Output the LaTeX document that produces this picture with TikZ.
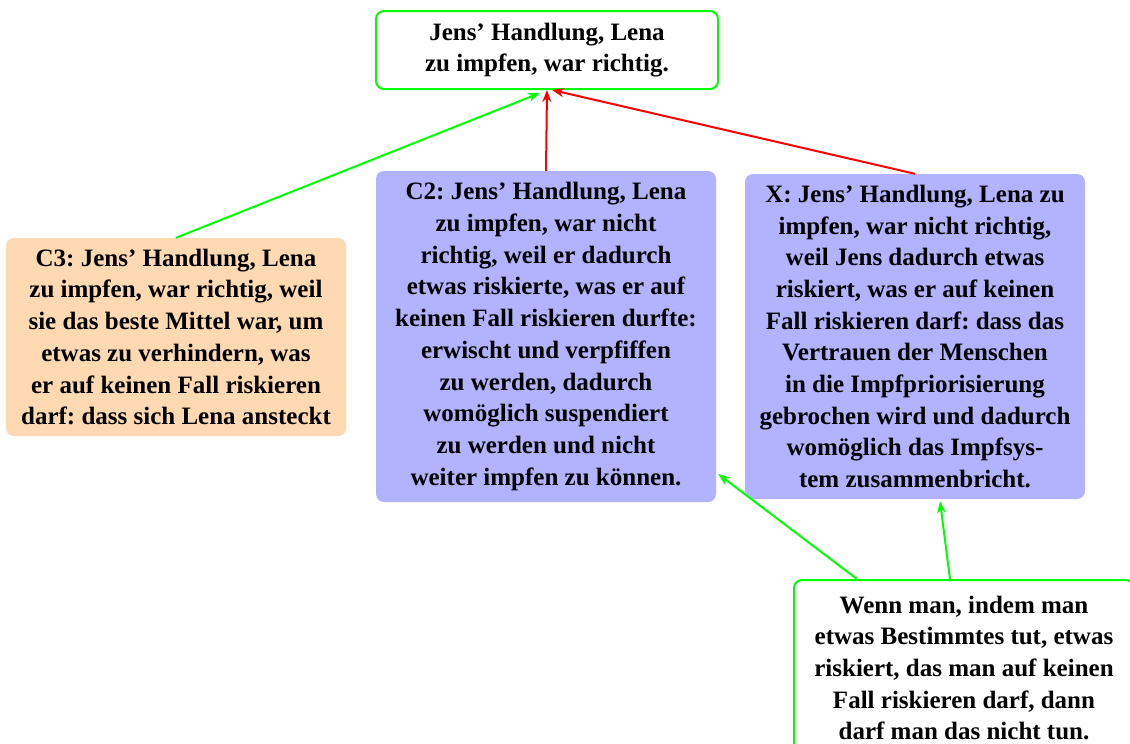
\documentclass[tikz,border=0pt]{standalone}
\usepackage{fontspec}
\setmainfont{Liberation Serif}
\usetikzlibrary{arrows.meta}
\frenchspacing
\tikzset{
  box/.style={rectangle, rounded corners=8pt, align=center, inner sep=0pt,
    font=\bfseries\fontsize{25}{31.7}\selectfont, minimum width=340pt},
  claim/.style={box, draw=green, line width=2pt},
  pro/.style={box, fill=orange!30},
  con/.style={box, fill=blue!30},
  sup/.style={draw=green, line width=2pt, -{Stealth[length=12pt,width=9pt]}},
  att/.style={draw=red, line width=2pt, -{Stealth[length=12pt,width=9pt]}},
}
\begin{document}
\begin{tikzpicture}[x=1pt,y=-1pt]
\useasboundingbox (0,0) rectangle (1130,744);
\begin{scope}
\clip (0,0) rectangle (1130,744);
\node[claim, minimum width=342pt, minimum height=78pt] (top) at (547,50)
  {Jens’ Handlung, Lena\\zu impfen, war richtig.};
\node[pro, minimum height=198pt] (c3) at (176,337)
  {C3: Jens’ Handlung, Lena\\zu impfen, war richtig, weil\\sie das beste Mittel war, um\\etwas zu verhindern, was\\er auf keinen Fall riskieren\\darf: dass sich Lena ansteckt};
\node[con, minimum height=331pt] (c2) at (546,336.5)
  {C2: Jens’ Handlung, Lena\\zu impfen, war nicht\\richtig, weil er dadurch\\etwas riskierte, was er auf\\keinen Fall riskieren durfte:\\erwischt und verpfiffen\\zu werden, dadurch\\womöglich suspendiert\\zu werden und nicht\\weiter impfen zu können.};
\node[con, minimum height=325pt] (x) at (915,336.5)
  {X: Jens’ Handlung, Lena zu\\impfen, war nicht richtig,\\weil Jens dadurch etwas\\riskiert, was er auf keinen\\Fall riskieren darf: dass das\\Vertrauen der Menschen\\in die Impfpriorisierung\\gebrochen wird und dadurch\\womöglich das Impfsys-\\tem zusammenbricht.};
\node[claim, minimum height=176pt] (bot) at (964,668)
  {Wenn man, indem man\\etwas Bestimmtes tut, etwas\\riskiert, das man auf keinen\\Fall riskieren darf, dann\\darf man das nicht tun.};
\draw[sup] (c3.north) -- ([xshift=-7pt,yshift=-3pt]top.south);
\draw[att] (c2.north) -- (top.south);
\draw[att] (x.north) -- ([xshift=5pt]top.south);
\draw[sup] ([xshift=-107pt]bot.north) -- ([xshift=2pt,yshift=-137.5pt]c2.east);
\draw[sup] ([xshift=-14pt]bot.north) -- ([xshift=25pt,yshift=-2pt]x.south);
\end{scope}
\end{tikzpicture}
\end{document}
